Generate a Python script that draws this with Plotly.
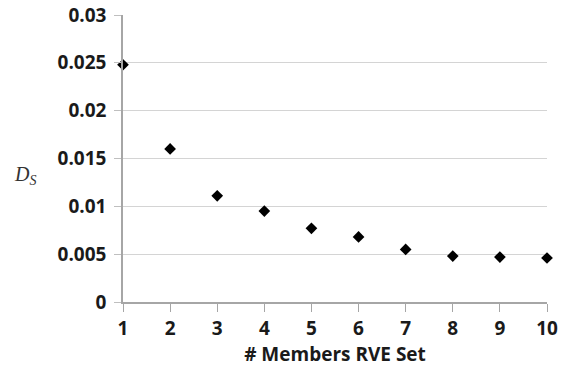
import plotly.graph_objects as go

members = [1, 2, 3, 4, 5, 6, 7, 8, 9, 10]
ds_values = [0.0248, 0.0160, 0.0111, 0.0095, 0.0077, 0.0068, 0.0055, 0.0048, 0.0047, 0.0046]
y_ticks = [0, 0.005, 0.01, 0.015, 0.02, 0.025, 0.03]
y_tick_text = ["0", "0.005", "0.01", "0.015", "0.02", "0.025", "0.03"]

fig = go.Figure(
    go.Scatter(
        x=members,
        y=ds_values,
        mode="markers",
        marker=dict(symbol="diamond", size=9, color="black"),
        cliponaxis=False,
    )
)

bold_font = dict(family="Open Sans", size=19, color="#1a1a1a", weight="bold")

fig.update_layout(
    width=561,
    height=367,
    margin=dict(l=123, r=14, t=15, b=65, autoexpand=False),
    paper_bgcolor="white",
    plot_bgcolor="white",
    showlegend=False,
    xaxis=dict(
        range=[1, 10],
        tickvals=members,
        ticks="outside",
        ticklen=8,
        tickcolor="#a6a6a6",
        showline=True,
        linecolor="#a6a6a6",
        linewidth=1.5,
        showgrid=False,
        zeroline=False,
        automargin=False,
        tickfont=bold_font,
        title=dict(
            text="# Members RVE Set",
            font=dict(family="Open Sans", size=19, color="#1a1a1a", weight="bold"),
            standoff=0,
        ),
    ),
    yaxis=dict(
        range=[0, 0.03],
        tickvals=y_ticks,
        ticktext=y_tick_text,
        ticks="outside",
        ticklen=7,
        tickcolor="#bfbfbf",
        showline=True,
        linecolor="#a6a6a6",
        linewidth=1.5,
        showgrid=True,
        gridcolor="#d4d4d4",
        gridwidth=1.2,
        zeroline=False,
        automargin=False,
        tickfont=bold_font,
        ticklabelstandoff=4,
    ),
)

# Horizontal y-axis label D_S to the left of the tick labels
fig.add_annotation(
    text="<i>D</i><sub><i>S</i></sub>",
    xref="paper", yref="paper",
    x=-0.262, y=0.44,
    xanchor="left", yanchor="middle",
    showarrow=False,
    font=dict(family="Liberation Serif", size=20, color="#333333"),
)

fig.write_html("out.html")
